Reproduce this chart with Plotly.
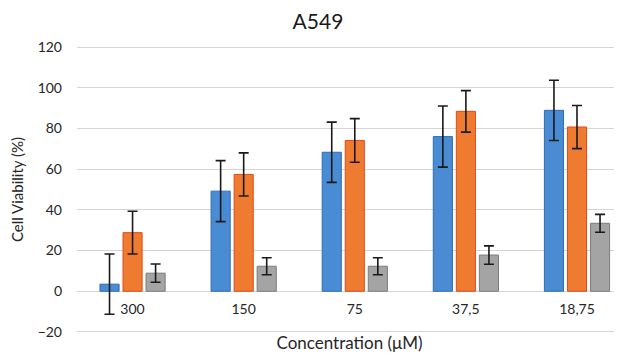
import plotly.graph_objects as go

categories = ["300", "150", "75", "37,5", "18,75"]
blue_values = [3.5, 49.2, 68.3, 76.0, 88.9]
blue_errors = [14.8, 15.0, 14.8, 15.0, 14.8]
orange_values = [28.8, 57.4, 74.1, 88.4, 80.7]
orange_errors = [10.5, 10.6, 10.7, 10.2, 10.6]
gray_values = [8.9, 12.3, 12.3, 17.8, 33.4]
gray_errors = [4.5, 4.2, 4.2, 4.5, 4.4]

series = [
    ("Series 1", blue_values, blue_errors, "#4a8cd4", "#2e6db4"),
    ("Series 2", orange_values, orange_errors, "#ee7b30", "#e4481c"),
    ("Series 3", gray_values, gray_errors, "#a4a4a4", "#7c7c7c"),
]

x_idx = list(range(len(categories)))
fig = go.Figure()
for name, vals, errs, fill, line in series:
    fig.add_trace(go.Bar(
        x=x_idx, y=vals, name=name,
        marker=dict(color=fill, line=dict(color=line, width=1)),
        error_y=dict(type="data", array=errs, visible=True,
                     color="#1a1a1a", thickness=1.6, width=5),
    ))

# the page body has an 8px default margin, so the figure is sized to fit
W, H = 614, 346
font_family = "Lato, 'Open Sans', sans-serif"
fig.update_layout(
    width=W, height=H,
    margin=dict(l=69, r=0, t=38, b=21, autoexpand=False),
    paper_bgcolor="white", plot_bgcolor="white",
    barmode="group", bargap=0.378, bargroupgap=0.17,
    showlegend=False,
    font=dict(family=font_family, color="#404040", size=13),
    title=dict(text="A549", x=310/W, xref="container", xanchor="center",
               y=1 - 14/H, yref="container", yanchor="middle",
               font=dict(size=21, color="#1a1a1a", family=font_family)),
    xaxis=dict(
        tickmode="array", tickvals=x_idx, ticktext=categories,
        range=[-0.5, 4.405], anchor="free", position=20.5/141,
        showgrid=False, zeroline=False, showline=False,
        ticks="", ticklabelstandoff=8,
        tickfont=dict(size=14, color="#262626"),
        title=dict(text="Concentration (μM)", standoff=20,
                   font=dict(size=17, color="#262626")),
        automargin=False,
    ),
    yaxis=dict(
        range=[-20.5, 120.5], tickvals=[-20, 0, 20, 40, 60, 80, 100, 120],
        showgrid=True, gridcolor="#d4d4d4", gridwidth=1,
        zeroline=True, zerolinecolor="#d4d4d4", zerolinewidth=1,
        showline=False, ticks="", ticklabelstandoff=14,
        tickfont=dict(size=14, color="#262626"),
        title=dict(text="Cell Viability (%)", standoff=11,
                   font=dict(size=15, color="#262626")),
        automargin=False,
    ),
)

fig.write_html("out.html")
